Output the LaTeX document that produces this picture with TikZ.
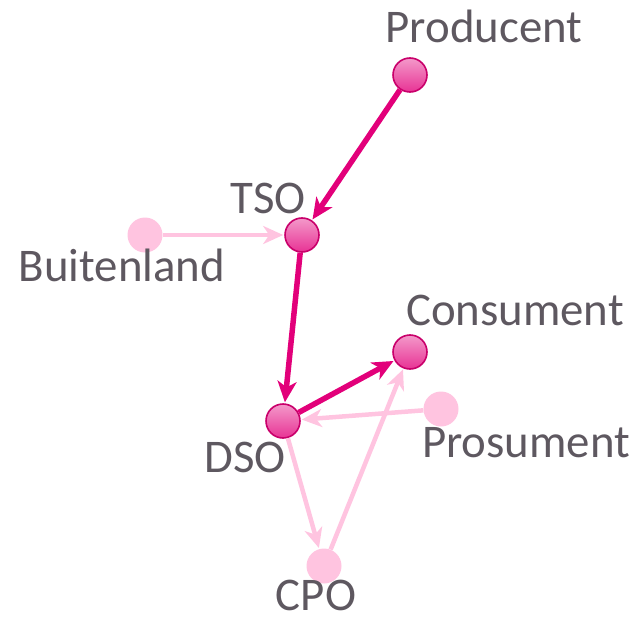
\documentclass[tikz,border=0pt]{standalone}
\usepackage{fontspec}
\setmainfont{Carlito}
\usetikzlibrary{arrows.meta}

\definecolor{darkpink}{HTML}{E2007A}
\definecolor{rimpink}{HTML}{C9006B}
\definecolor{lightpink}{HTML}{FFC4E0}
\definecolor{labelgray}{HTML}{5E5860}

\tikzset{
	actor/.style={circle, draw=rimpink, line width=1.6bp, minimum size=34bp, inner sep=0pt,
		top color=darkpink!40!white, bottom color=darkpink!80!white},
	passive/.style={circle, fill=lightpink, minimum size=35bp, inner sep=0pt},
	actorname/.style={text=labelgray, font=\fontsize{47}{50}\selectfont, inner sep=0pt, anchor=base},
	flow/.style={-{Stealth[length=21bp, width=19bp, inset=6bp]}, line width=5.5bp, darkpink, shorten >=1bp},
	weakflow/.style={-{Stealth[length=20bp, width=18bp, inset=6bp]}, line width=4.5bp, lightpink, shorten >=1bp}
}

\begin{document}
\begin{tikzpicture}[x=1bp, y=-1bp]
	\useasboundingbox (0,0) rectangle (639,620);

	% Actors
	\node[actor]   (producent)  at (410,75)  {};
	\node[actor]   (tso)        at (302,235) {};
	\node[passive] (buitenland) at (145,235) {};
	\node[actor]   (consument)  at (410,352) {};
	\node[actor]   (dso)        at (283,421) {};
	\node[passive] (prosument)  at (441,409) {};
	\node[passive] (cpo)        at (324,566) {};

	% Labels
	\node[actorname] (producentlabel)  at (484,43)  {Producent};
	\node[actorname] (tsolabel)        at (268,213) {TSO};
	\node[actorname] (buitenlandlabel) at (122,281) {Buitenland};
	\node[actorname] (consumentlabel)  at (515,325) {Consument};
	\node[actorname] (dsolabel)        at (245,472) {DSO};
	\node[actorname] (prosumentlabel)  at (526,457) {Prosument};
	\node[actorname] (cpolabel)        at (316,610) {CPO};

	% Flows
	\draw[weakflow] (buitenland) -- (tso);
	\draw[weakflow] (prosument) -- (dso);
	\draw[weakflow] (dso) -- (cpo);
	\draw[weakflow] (cpo) -- (consument);
	\draw[flow] (producent) -- (tso);
	\draw[flow] (tso) -- (dso);
	\draw[flow] (dso) -- (consument);
\end{tikzpicture}
\end{document}
